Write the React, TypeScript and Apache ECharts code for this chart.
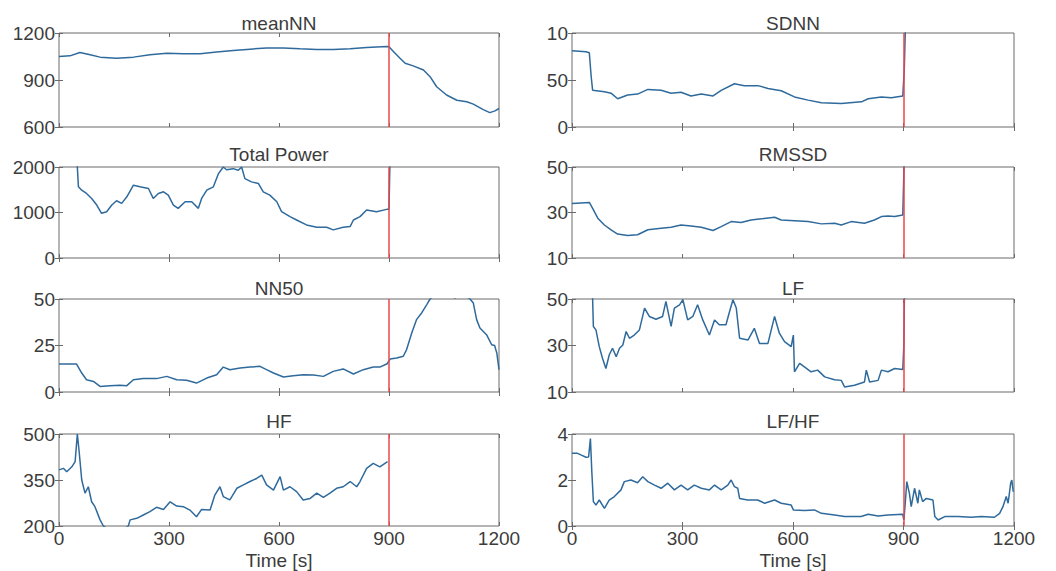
import React, { useEffect, useRef } from "react";
import * as echarts from "echarts";

// ---------- data (time [s], value) ----------
const meanNN: [number, number][] = [
  [0, 1050], [30, 1054], [57, 1076], [85, 1061], [112, 1046], [157, 1039], [203, 1046], [248, 1061],
  [294, 1071], [339, 1067], [385, 1067], [430, 1078], [475, 1089], [521, 1097], [566, 1104], [612, 1104],
  [657, 1099], [703, 1095], [748, 1095], [794, 1099], [839, 1108], [894, 1114], [900, 1113], [912, 1082],
  [930, 1039], [944, 1007], [966, 990], [994, 964], [1012, 921], [1030, 857], [1057, 804], [1085, 771],
  [1112, 761], [1130, 746], [1157, 711], [1175, 692], [1189, 703], [1200, 718],
];
const sdnn: [number, number][] = [
  [0, 81], [38, 80], [47, 79], [52, 54], [56, 39], [88, 37.5], [106, 36], [124, 30], [151, 34], [178, 35],
  [206, 40], [242, 39], [269, 36], [296, 37], [323, 33], [351, 35], [383, 33], [405, 39], [441, 46],
  [468, 44], [505, 44], [532, 41], [568, 38.6], [604, 32], [641, 28.6], [677, 25.7], [731, 25], [786, 26.8],
  [804, 30], [840, 32], [867, 31], [898, 33], [902, 60], [906, 118],
];
const totalPower: [number, number][] = [
  [0, 2500], [40, 2450], [50, 2000], [53, 1564], [62, 1491], [75, 1418], [89, 1309], [103, 1164], [116, 982],
  [130, 1018], [144, 1164], [157, 1258], [171, 1200], [185, 1345], [203, 1600], [221, 1564], [244, 1527],
  [257, 1309], [271, 1418], [285, 1455], [298, 1382], [312, 1164], [325, 1091], [344, 1236], [362, 1236],
  [380, 1091], [389, 1309], [403, 1491], [421, 1564], [435, 1855], [448, 2000], [457, 1940], [475, 1964],
  [489, 1927], [498, 2000], [507, 1745], [525, 1673], [544, 1636], [557, 1455], [575, 1382], [594, 1236],
  [607, 1018], [630, 909], [648, 836], [675, 727], [703, 676], [730, 676], [748, 618], [775, 676],
  [794, 691], [803, 836], [821, 909], [839, 1055], [866, 1018], [894, 1069], [900, 1069], [903, 2300],
];
const rmssd: [number, number][] = [
  [0, 34], [47, 34.4], [56, 31.8], [70, 27.5], [88, 24.5], [106, 22.4], [124, 20.5], [151, 19.9], [178, 20.2],
  [206, 22.4], [242, 23.1], [269, 23.5], [296, 24.5], [323, 24.1], [351, 23.5], [383, 22.1], [405, 23.8],
  [432, 26], [459, 25.6], [486, 26.7], [514, 27.2], [550, 27.9], [568, 26.7], [604, 26.4], [641, 26],
  [677, 25], [713, 25.3], [731, 24.5], [758, 26], [794, 25.3], [821, 26.7], [840, 28.2], [858, 28.5],
  [876, 28.2], [898, 28.9], [903, 60],
];
const nn50: [number, number][] = [
  [0, 15], [48, 15], [62, 10.2], [75, 6.6], [94, 5.7], [112, 3], [139, 3.4], [166, 3.6], [185, 3.4],
  [203, 6.6], [230, 7.2], [266, 7.2], [294, 8.4], [321, 6.6], [348, 6.3], [375, 4.8], [403, 7.5], [430, 9.3],
  [448, 13.4], [466, 12], [494, 12.9], [521, 13.4], [548, 13.8], [566, 12], [585, 10.2], [612, 8.1],
  [639, 8.8], [666, 9.3], [694, 9.1], [721, 8.4], [748, 11.1], [775, 12.4], [803, 9.7], [830, 12],
  [857, 13.4], [875, 13.4], [895, 15.2], [903, 17.7], [921, 18.3], [939, 19.2], [948, 22.8], [962, 31.7],
  [975, 38.9], [989, 42.5], [1003, 47], [1012, 50], [1040, 55], [1080, 50.5], [1100, 53], [1121, 50],
  [1130, 47.8], [1139, 38.9], [1148, 34.4], [1166, 30.8], [1180, 25.4], [1188, 25], [1194, 21], [1200, 12],
];
const lf: [number, number][] = [
  [0, 65], [50, 62], [56, 50], [58, 38.2], [65, 36.7], [74, 29.5], [83, 24.4], [92, 20.1], [101, 25.9],
  [110, 28.8], [120, 25.2], [129, 28.8], [138, 30.2], [147, 36], [156, 33.1], [169, 34.5], [183, 36.7],
  [197, 46.1], [210, 42.5], [228, 41.3], [246, 42.5], [255, 49], [269, 38.2], [278, 46.1], [292, 47.5],
  [301, 49.7], [314, 41], [328, 42.5], [341, 47.5], [355, 41], [373, 34.5], [387, 41], [400, 38.9],
  [418, 38.9], [428, 44.7], [437, 49.7], [446, 46.1], [455, 33.1], [478, 32.4], [495, 37.4], [509, 30.9],
  [532, 30.9], [550, 42.5], [563, 35.3], [577, 31.7], [595, 29.5], [601, 34.5], [604, 18.7], [618, 22.3],
  [631, 20.8], [649, 18.7], [667, 19.4], [686, 16.5], [713, 15.3], [731, 15], [740, 12.2], [767, 12.9],
  [794, 14.3], [799, 19.4], [808, 14.3], [831, 15], [840, 19.4], [858, 18.7], [876, 20.1], [898, 19.7],
  [901, 30], [903, 60],
];
const hf: [number, number][] = [
  [0, 383], [12, 388], [21, 377], [35, 393], [44, 410], [50, 500], [55, 442], [62, 350], [71, 307],
  [80, 328], [89, 279], [98, 263], [112, 220], [121, 200], [140, 185], [165, 180], [189, 200], [194, 220],
  [212, 225], [230, 236], [248, 247], [266, 261], [285, 254], [303, 279], [321, 265], [339, 263],
  [357, 252], [375, 230], [389, 254], [412, 252], [425, 301], [439, 328], [448, 296], [466, 285],
  [485, 323], [503, 334], [521, 345], [539, 355], [553, 366], [566, 334], [585, 317], [603, 361],
  [612, 317], [630, 328], [648, 312], [666, 285], [685, 290], [703, 307], [721, 293], [739, 307],
  [757, 323], [775, 328], [794, 345], [812, 328], [821, 345], [839, 388], [857, 404], [875, 393], [896, 410],
];
const lfhf: [number, number][] = [
  [0, 3.16], [15, 3.16], [24, 3.09], [38, 2.99], [45, 3.0], [50, 3.8], [54, 2.29], [58, 1.06], [65, 0.91],
  [74, 1.13], [88, 0.77], [101, 1.13], [115, 1.28], [133, 1.57], [142, 1.93], [160, 2.0], [178, 1.88],
  [192, 2.14], [206, 1.93], [224, 1.78], [242, 1.64], [260, 1.86], [278, 1.57], [296, 1.78], [314, 1.57],
  [332, 1.78], [351, 1.64], [373, 1.57], [387, 1.78], [405, 1.57], [423, 1.78], [432, 2.0], [441, 1.71],
  [450, 1.64], [455, 1.2], [477, 1.13], [504, 1.13], [523, 0.99], [550, 1.13], [568, 0.99], [595, 0.91],
  [601, 0.7], [631, 0.67], [658, 0.7], [677, 0.55], [713, 0.48], [740, 0.41], [785, 0.41], [804, 0.51],
  [831, 0.43], [858, 0.48], [898, 0.51], [901, 0.26], [904, 0.84], [909, 1.93], [916, 1.42], [921, 0.84],
  [930, 1.64], [939, 0.99], [943, 1.57], [952, 1.06], [962, 1.2], [980, 1.13], [985, 0.41], [994, 0.26],
  [1012, 0.41], [1048, 0.41], [1084, 0.38], [1111, 0.41], [1147, 0.38], [1161, 0.55], [1170, 0.84],
  [1179, 1.28], [1184, 0.99], [1191, 1.86], [1194, 2.0], [1198, 1.49],
];

const titles = ["meanNN", "SDNN", "Total Power", "RMSSD", "NN50", "LF", "HF", "LF/HF"];
const yTicks: number[][] = [
  [600, 900, 1200], [0, 50, 100], [0, 1000, 2000], [10, 30, 50],
  [0, 25, 50], [10, 30, 50], [200, 350, 500], [0, 2, 4],
];
const yTickLabels: string[][] = [
  ["600", "900", "1200"], ["0", "50", "10"], ["0", "1000", "2000"], ["10", "30", "50"],
  ["0", "25", "50"], ["10", "30", "50"], ["200", "350", "500"], ["0", "2", "4"],
];
const xTicks = [0, 300, 600, 900, 1200];
const xTickLabels = ["0", "300", "600", "900", "1200"];
const eventTime = 900;
const xLabel = "Time [s]";
const seriesData = [meanNN, sdnn, totalPower, rmssd, nn50, lf, hf, lfhf];

// ---------- layout ----------
const colLeft = [59, 572];
const colWidth = [440, 442];
const rowTop = [33, 167, 299, 434];
const rowHeight = [94, 91, 93, 92];
const titleY = [23.5, 154, 288, 421];

const FONT = "'Liberation Sans', Arial, Helvetica, sans-serif";
const FRAME = "#6a6a6a";
const TEXT = "#3c3c3c";
const LINE = "#2f6a9c";
const RED = "#e8474b";

export default function App() {
  const ref = useRef<HTMLDivElement>(null);
  useEffect(() => {
    document.body.style.margin = "0";
    const chart = echarts.init(ref.current!, null, { renderer: "svg" });
    const grid: any[] = [];
    const xAxis: any[] = [];
    const yAxis: any[] = [];
    const series: any[] = [];
    const graphic: any[] = [];
    for (let i = 0; i < 8; i++) {
      const col = i % 2;
      const row = Math.floor(i / 2);
      const isBottom = row === 3;
      grid.push({
        left: colLeft[col], top: rowTop[row], width: colWidth[col], height: rowHeight[row],
        show: true, borderColor: FRAME, borderWidth: 1, backgroundColor: "transparent",
      });
      const baseX = {
        type: "value", gridIndex: i, min: xTicks[0], max: xTicks[xTicks.length - 1], interval: 300,
        splitLine: { show: false }, axisLine: { show: false },
        axisTick: { show: true, inside: true, length: 4, lineStyle: { color: FRAME } },
      };
      xAxis.push({
        ...baseX, position: "bottom",
        axisLabel: {
          show: isBottom, color: TEXT, fontSize: 19, fontFamily: FONT, margin: 3,
          formatter: (v: number) => xTickLabels[xTicks.indexOf(v)] ?? String(v),
        },
        name: isBottom ? xLabel : "", nameLocation: "middle", nameGap: 25,
        nameTextStyle: { color: TEXT, fontSize: 19, fontFamily: FONT },
      });
      xAxis.push({ ...baseX, position: "top", axisLabel: { show: false } });
      const ticks = yTicks[i];
      const labels = yTickLabels[i];
      const baseY = {
        type: "value", gridIndex: i, min: ticks[0], max: ticks[ticks.length - 1],
        splitLine: { show: false }, axisLine: { show: false },
        axisTick: { show: true, inside: true, length: 4, customValues: ticks, lineStyle: { color: FRAME } },
      };
      yAxis.push({
        ...baseY, position: "left",
        axisLabel: {
          show: true, customValues: ticks, color: TEXT, fontSize: 19, fontFamily: FONT, margin: 4,
          formatter: (v: number) => labels[ticks.indexOf(v)] ?? "",
        },
      });
      yAxis.push({ ...baseY, position: "right", axisLabel: { show: false } });
      series.push({
        type: "line", xAxisIndex: 2 * i, yAxisIndex: 2 * i, data: seriesData[i],
        showSymbol: false, symbol: "none", clip: true,
        lineStyle: { color: LINE, width: 1.5 },
        markLine: {
          silent: true, symbol: ["none", "none"], label: { show: false },
          lineStyle: { color: RED, width: 1.5, type: "solid" },
          data: [{ xAxis: eventTime }],
        },
      });
      graphic.push({
        type: "text", x: colLeft[col] + colWidth[col] / 2, y: titleY[row],
        style: {
          text: titles[i], fill: TEXT, font: `19px ${FONT}`,
          textAlign: "center", textVerticalAlign: "middle",
        },
      });
    }
    chart.setOption({
      animation: false,
      grid, xAxis, yAxis, series, graphic,
    });
    return () => chart.dispose();
  }, []);
  return <div ref={ref} style={{ width: 1056, height: 571 }} />;
}
